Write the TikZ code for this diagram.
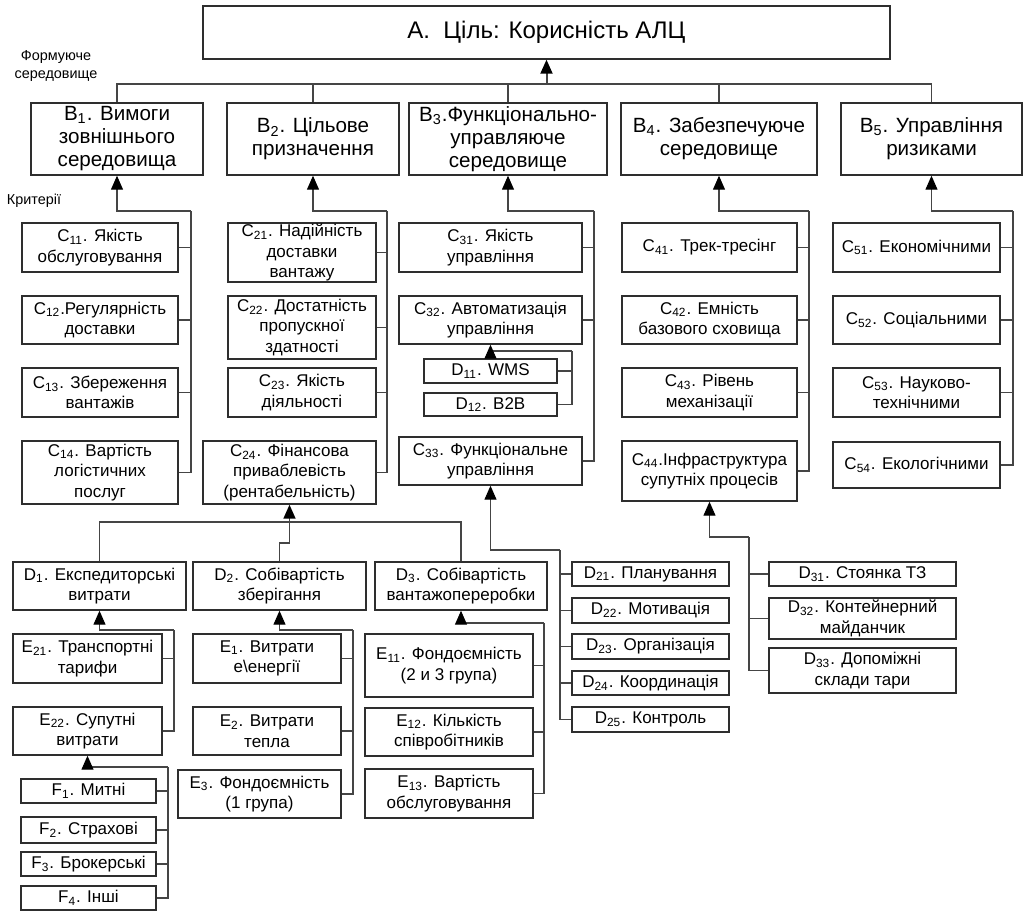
\documentclass[tikz,border=0pt]{standalone}
\usepackage{fontspec}
\setmainfont{Liberation Sans}
\usetikzlibrary{arrows.meta}

\definecolor{boxGray}{HTML}{2E2E2E}
\definecolor{wireGray}{HTML}{454545}
\newcommand{\ix}[1]{\textsubscript{#1}}

\begin{document}
\begin{tikzpicture}[x=0.5pt, y=-0.5pt,
    cbox/.style={draw=boxGray, line width=0.7pt, align=center, inner sep=0pt, font=\fontsize{8.5}{10.3}\selectfont},
    bbox/.style={cbox, font=\fontsize{10.3}{11.5}\selectfont},
    wire/.style={draw=wireGray, line width=0.55pt},
    arr/.style={wire, -{Triangle[length=7pt, width=6pt, color=black]}},
    note/.style={align=center, inner sep=0pt, font=\fontsize{7.2}{8.7}\selectfont}]
    \useasboundingbox (0,0) rectangle (1025,911);

    \node[cbox, font=\fontsize{12}{14}\selectfont, minimum width=343.5pt, minimum height=26.5pt] (a) at (546.5,32.5) {A.\ \ Ціль: Корисність АЛЦ};

    \node[note] (form) at (56,66) {Формуюче\\середовище};
    \node[note] (crit) at (34,201) {Критерії};

    \node[bbox, minimum width=86pt, minimum height=36pt] (b1) at (117,139) {B\ix{1}. Вимоги\\зовнішнього\\середовища};
    \node[bbox, minimum width=86pt, minimum height=36pt] (b2) at (313,139) {B\ix{2}. Цільове\\призначення};
    \node[bbox, minimum width=99pt, minimum height=36pt] (b3) at (508,139) {B\ix{3}.Функціонально-\\управляюче\\середовище};
    \node[bbox, minimum width=98pt, minimum height=36pt] (b4) at (719,139) {B\ix{4}. Забезпечуюче\\середовище};
    \node[bbox, minimum width=90.5pt, minimum height=36pt] (b5) at (931.5,139) {B\ix{5}. Управління\\ризиками};

    \node[cbox, minimum width=78pt, minimum height=24.5pt] (c11) at (100,247.5) {C\ix{11}. Якість\\обслуговування};
    \node[cbox, minimum width=78pt, minimum height=24pt] (c12) at (100,320) {C\ix{12}.Регулярність\\доставки};
    \node[cbox, minimum width=78pt, minimum height=24.5pt] (c13) at (100,392.5) {C\ix{13}. Збереження\\вантажів};
    \node[cbox, minimum width=78pt, minimum height=31.5pt] (c14) at (100,472.5) {C\ix{14}. Вартість\\логістичних\\послуг};

    \node[cbox, minimum width=74pt, minimum height=29.5pt] (c21) at (302,252.5) {C\ix{21}. Надійність\\доставки\\вантажу};
    \node[cbox, minimum width=74pt, minimum height=31.5pt] (c22) at (302,327.5) {C\ix{22}. Достатність\\пропускної\\здатності};
    \node[cbox, minimum width=74pt, minimum height=24.5pt] (c23) at (302,392.5) {C\ix{23}. Якість\\діяльності};
    \node[cbox, minimum width=86.5pt, minimum height=31.5pt] (c24) at (289.5,472.5) {C\ix{24}. Фінансова\\приваблевість\\(рентабельність)};

    \node[cbox, minimum width=91.5pt, minimum height=24.5pt] (c31) at (490.5,247.5) {C\ix{31}. Якість\\управління};
    \node[cbox, minimum width=91.5pt, minimum height=24pt] (c32) at (490.5,320) {C\ix{32}. Автоматизація\\управління};
    \node[cbox, minimum width=66.5pt, minimum height=12pt] (d11) at (490.5,371) {D\ix{11}. WMS};
    \node[cbox, minimum width=66.5pt, minimum height=11.5pt] (d12) at (490.5,404.5) {D\ix{12}. B2B};
    \node[cbox, minimum width=91.5pt, minimum height=24pt] (c33) at (490.5,461) {C\ix{33}. Функціональне\\управління};

    \node[cbox, minimum width=87.5pt, minimum height=24.5pt] (c41) at (709.5,247.5) {C\ix{41}. Трек-тресінг};
    \node[cbox, minimum width=87.5pt, minimum height=24pt] (c42) at (709.5,320) {C\ix{42}. Емність\\базового сховища};
    \node[cbox, minimum width=87.5pt, minimum height=24.5pt] (c43) at (709.5,392.5) {C\ix{43}. Рівень\\механізації};
    \node[cbox, minimum width=87.5pt, minimum height=30pt] (c44) at (709.5,471) {C\ix{44}.Інфраструктура\\супутніх процесів};

    \node[cbox, minimum width=83.5pt, minimum height=24.5pt] (c51) at (916.5,247.5) {C\ix{51}. Економічними};
    \node[cbox, minimum width=83.5pt, minimum height=24pt] (c52) at (916.5,320) {C\ix{52}. Соціальними};
    \node[cbox, minimum width=83.5pt, minimum height=24.5pt] (c53) at (916.5,392.5) {C\ix{53}. Науково-\\технічними};
    \node[cbox, minimum width=83.5pt, minimum height=23pt] (c54) at (916.5,465) {C\ix{54}. Екологічними};

    \node[cbox, minimum width=86.5pt, minimum height=24pt] (d1) at (99.5,586) {D\ix{1}. Експедиторські\\витрати};
    \node[cbox, minimum width=86.5pt, minimum height=24pt] (d2) at (279.5,586) {D\ix{2}. Собівартість\\зберігання};
    \node[cbox, minimum width=86pt, minimum height=24pt] (d3) at (461,586) {D\ix{3}. Собівартість\\вантажопереробки};

    \node[cbox, minimum width=78.5pt, minimum height=12pt] (d21) at (650.5,574) {D\ix{21}. Планування};
    \node[cbox, minimum width=78.5pt, minimum height=12.5pt] (d22) at (650.5,610.5) {D\ix{22}. Мотивація};
    \node[cbox, minimum width=78.5pt, minimum height=12.5pt] (d23) at (650.5,646.5) {D\ix{23}. Організація};
    \node[cbox, minimum width=78.5pt, minimum height=12pt] (d24) at (650.5,683) {D\ix{24}. Координація};
    \node[cbox, minimum width=78.5pt, minimum height=12.5pt] (d25) at (650.5,719.5) {D\ix{25}. Контроль};

    \node[cbox, minimum width=93.5pt, minimum height=12pt] (d31) at (862.5,574) {D\ix{31}. Стоянка ТЗ};
    \node[cbox, minimum width=93.5pt, minimum height=20.5pt] (d32) at (862.5,618.5) {D\ix{32}. Контейнерний\\майданчик};
    \node[cbox, minimum width=93.5pt, minimum height=22.5pt] (d33) at (862.5,670.5) {D\ix{33}. Допоміжні\\склади тари};

    \node[cbox, minimum width=74.5pt, minimum height=24.5pt] (e21) at (87.5,658.5) {E\ix{21}. Транспортні\\тарифи};
    \node[cbox, minimum width=74.5pt, minimum height=24pt] (e22) at (87.5,731) {E\ix{22}. Супутні\\витрати};

    \node[cbox, minimum width=74pt, minimum height=24.5pt] (e1) at (267,658.5) {E\ix{1}. Витрати\\е\textbackslash енергії};
    \node[cbox, minimum width=74pt, minimum height=24pt] (e2) at (267,731) {E\ix{2}. Витрати\\тепла};
    \node[cbox, minimum width=81.5pt, minimum height=24pt] (e3) at (259.5,794) {E\ix{3}. Фондоємність\\(1 група)};

    \node[cbox, minimum width=84pt, minimum height=31.5pt] (e11) at (449,665.5) {E\ix{11}. Фондоємність\\(2 и 3 група)};
    \node[cbox, minimum width=84pt, minimum height=24pt] (e12) at (449,732) {E\ix{12}. Кількість\\співробітників};
    \node[cbox, minimum width=84pt, minimum height=24.5pt] (e13) at (449,793.5) {E\ix{13}. Вартість\\обслуговування};

    \node[cbox, minimum width=67.5pt, minimum height=12pt] (f1) at (88.5,791) {F\ix{1}. Митні};
    \node[cbox, minimum width=67.5pt, minimum height=13pt] (f2) at (88.5,830) {F\ix{2}. Страхові};
    \node[cbox, minimum width=67.5pt, minimum height=12pt] (f3) at (88.5,864) {F\ix{3}. Брокерські};
    \node[cbox, minimum width=67.5pt, minimum height=12pt] (f4) at (88.5,898) {F\ix{4}. Інші};

    \coordinate (ka) at (546.5,84);
    \coordinate (k1) at (191,211);
    \coordinate (k2) at (387,211);
    \coordinate (k3) at (594,211);
    \coordinate (k4) at (809,211);
    \coordinate (k5) at (1013,211);
    \coordinate (k32) at (572,351);
    \coordinate (k33) at (560,550);
    \coordinate (k44) at (749,537);
    \coordinate (kd) at (0,522);
    \coordinate (k24) at (289.5,543);
    \coordinate (ke1) at (174,630);
    \coordinate (ke2) at (353,630);
    \coordinate (ke3) at (544,623);
    \coordinate (kf) at (168,767);

    \draw[wire] (b1.north) |- (ka);
    \draw[wire] (b2.north) |- (ka);
    \draw[wire] (b3.north) |- (ka);
    \draw[wire] (b4.north) |- (ka);
    \draw[wire] (b5.north) |- (ka);
    \draw[arr, line width=1pt] (ka) -- (a.south);

    \draw[wire] (c11.east) -| (k1);
    \draw[wire] (c12.east) -| (k1);
    \draw[wire] (c13.east) -| (k1);
    \draw[wire] (c14.east) -| (k1);
    \draw[arr] (k1) -| (b1.south);

    \draw[wire] (c21.east) -| (k2);
    \draw[wire] (c22.east) -| (k2);
    \draw[wire] (c23.east) -| (k2);
    \draw[wire] (c24.east) -| (k2);
    \draw[arr] (k2) -| (b2.south);

    \draw[wire] (c31.east) -| (k3);
    \draw[wire] (c32.east) -| (k3);
    \draw[wire] (c33.east) -| (k3);
    \draw[arr] (k3) -| (b3.south);

    \draw[wire] (c41.east) -| (k4);
    \draw[wire] (c42.east) -| (k4);
    \draw[wire] (c43.east) -| (k4);
    \draw[wire] (c44.east) -| (k4);
    \draw[arr] (k4) -| (b4.south);

    \draw[wire] (c51.east) -| (k5);
    \draw[wire] (c52.east) -| (k5);
    \draw[wire] (c53.east) -| (k5);
    \draw[wire] (c54.east) -| (k5);
    \draw[arr] (k5) -| (b5.south);

    \draw[wire] (d11.east) -| (k32);
    \draw[wire] (d12.east) -| (k32);
    \draw[arr] (k32) -| (c32.south);

    \draw[wire] (d21.west) -| (k33);
    \draw[wire] (d22.west) -| (k33);
    \draw[wire] (d23.west) -| (k33);
    \draw[wire] (d24.west) -| (k33);
    \draw[wire] (d25.west) -| (k33);
    \draw[arr] (k33) -| (c33.south);

    \draw[wire] (d31.west) -| (k44);
    \draw[wire] (d32.west) -| (k44);
    \draw[wire] (d33.west) -| (k44);
    \draw[arr] (k44) -| (c44.south);

    \draw[wire] (d1.north) |- (d3.north |- kd) -- (d3.north);
    \draw[arr, line width=0.8pt] (d2.north) |- (k24) -- (c24.south);

    \draw[wire] (e21.east) -| (ke1);
    \draw[wire] (e22.east) -| (ke1);
    \draw[arr] (ke1) -| (d1.south);

    \draw[wire] (e1.east) -| (ke2);
    \draw[wire] (e2.east) -| (ke2);
    \draw[wire] (e3.east) -| (ke2);
    \draw[arr] (ke2) -| (d2.south);

    \draw[wire] (e11.east) -| (ke3);
    \draw[wire] (e12.east) -| (ke3);
    \draw[wire] (e13.east) -| (ke3);
    \draw[arr] (ke3) -| (d3.south);

    \draw[wire] (f1.east) -| (kf);
    \draw[wire] (f2.east) -| (kf);
    \draw[wire] (f3.east) -| (kf);
    \draw[wire] (f4.east) -| (kf);
    \draw[arr] (kf) -| (e22.south);
\end{tikzpicture}
\end{document}
